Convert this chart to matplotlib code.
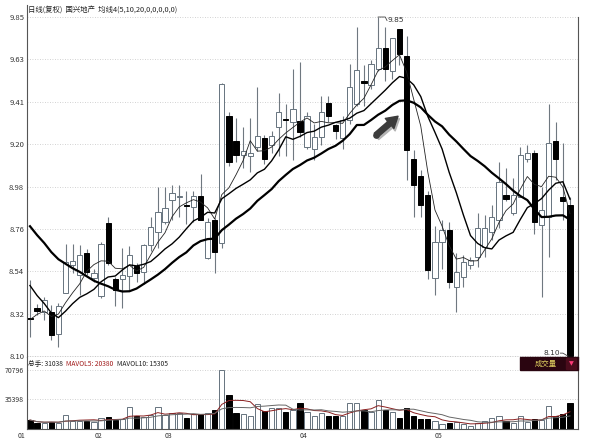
import matplotlib
matplotlib.use('Agg')
import matplotlib.pyplot as plt
import numpy as np
import pandas as pd
from matplotlib.patches import Rectangle

plt.rcParams['font.family'] = ['Noto Sans CJK SC', 'DejaVu Sans']

# daily candles
opens = [8.295, 8.347, 8.329, 8.329, 8.212, 8.424, 8.57, 8.519, 8.633, 8.504,
         8.41, 8.788, 8.498, 8.50, 8.514, 8.566, 8.535, 8.674, 8.742, 8.794,
         8.908, 8.92, 8.88, 8.871, 8.928, 8.607, 8.804, 8.685, 9.337, 9.208,
         9.14, 9.13, 9.177, 9.228, 9.187, 9.28, 9.325, 9.306, 9.311, 9.18,
         9.17, 9.23, 9.405, 9.29, 9.223, 9.32, 9.40, 9.52, 9.50, 9.58,
         9.69, 9.57, 9.788, 9.648, 9.115, 9.027, 8.933, 8.503, 8.69, 8.752,
         8.457, 8.509, 8.57, 8.612, 8.664, 8.74, 8.804, 8.933, 8.84, 8.923,
         9.115, 9.15, 8.778, 8.82, 9.208, 8.92, 8.88]
highs = [8.49, 8.37, 8.407, 8.364, 8.372, 8.68, 8.68, 8.674, 8.654, 8.55,
         8.69, 8.82, 8.51, 8.66, 8.67, 8.58, 8.68, 8.82, 8.97, 8.97,
         8.985, 8.985, 8.95, 8.95, 9.04, 8.81, 8.81, 9.51, 9.36, 9.33,
         9.28, 9.33, 9.49, 9.24, 9.26, 9.46, 9.40, 9.58, 9.62, 9.36,
         9.30, 9.44, 9.44, 9.30, 9.34, 9.61, 9.80, 9.60, 9.63, 9.85,
         9.80, 9.74, 9.79, 9.75, 9.166, 9.06, 8.95, 8.77, 8.80, 8.79,
         8.63, 8.62, 8.61, 8.84, 8.83, 8.88, 9.10, 9.07, 9.02, 9.18,
         9.19, 9.166, 8.97, 9.40, 9.31, 9.20, 8.92]
lows = [8.20, 8.31, 8.286, 8.183, 8.146, 8.424, 8.53, 8.415, 8.519, 8.48,
        8.40, 8.57, 8.36, 8.35, 8.44, 8.48, 8.47, 8.64, 8.66, 8.78,
        8.80, 8.82, 8.78, 8.79, 8.80, 8.60, 8.53, 8.66, 9.08, 9.10,
        9.07, 9.05, 9.16, 9.09, 9.15, 9.13, 9.13, 9.11, 9.23, 9.17,
        9.11, 9.19, 9.31, 9.22, 9.17, 9.30, 9.39, 9.39, 9.48, 9.57,
        9.52, 9.53, 9.60, 9.01, 8.82, 8.82, 8.50, 8.415, 8.55, 8.45,
        8.326, 8.457, 8.55, 8.56, 8.61, 8.70, 8.76, 8.90, 8.83, 8.92,
        9.10, 8.73, 8.405, 8.61, 9.01, 8.80, 8.10]
closes = [8.29, 8.333, 8.39, 8.209, 8.36, 8.583, 8.59, 8.623, 8.535, 8.529,
          8.68, 8.581, 8.441, 8.52, 8.623, 8.53, 8.674, 8.767, 8.845, 8.866,
          8.944, 8.926, 8.872, 8.928, 8.804, 8.794, 8.638, 9.503, 9.104, 9.14,
          9.16, 9.15, 9.234, 9.115, 9.234, 9.358, 9.318, 9.374, 9.254, 9.34,
          9.23, 9.358, 9.337, 9.26, 9.32, 9.487, 9.575, 9.51, 9.606, 9.69,
          9.58, 9.74, 9.66, 9.166, 8.985, 8.882, 8.545, 8.69, 8.752, 8.48,
          8.535, 8.586, 8.597, 8.762, 8.762, 8.82, 9.0, 8.91, 8.933, 9.14,
          9.15, 8.794, 8.856, 9.20, 9.115, 8.90, 8.10]
volumes = [10400, 6400, 6400, 8300, 7100, 16400, 9500, 9500, 9500, 8300,
           12400, 14400, 10400, 11200, 25700, 15200, 13600, 16400, 25700, 16400,
           18500, 18500, 13200, 17300, 17300, 18500, 22500, 70796, 40600, 18500,
           17300, 15200, 29400, 21300, 24500, 25200, 20400, 22500, 30600, 20400,
           15200, 18500, 15200, 15200, 15200, 30600, 30600, 22500, 20400, 34500,
           22500, 20400, 13200, 24500, 15200, 11600, 11200, 9200, 5600, 6400,
           8300, 5200, 3100, 6400, 9500, 12400, 15600, 9000, 7000, 15500,
           7800, 11850, 10400, 27500, 15500, 17462, 31038]
# closes before the visible window, guessed so the MA lines start where they do
prior_closes = [9.25, 9.2, 9.15, 9.1, 9.05, 9.05, 9.0, 9.0, 8.98, 8.98,
                8.85, 8.8, 8.7, 8.6, 8.25, 8.2, 8.3, 8.35, 8.3]

price_ticks = np.linspace(8.10, 9.85, 9)
price_labels = ['8.10', '8.32', '8.54', '8.76', '8.98', '9.20', '9.41', '9.63', '9.85']
vol_ticks = [35398, 70796]
months = ['01', '02', '03', '04', '05']
month_at = [-1.7, 9.15, 19, 38, 57]

df = pd.DataFrame({'open': opens, 'high': highs, 'low': lows,
                   'close': closes, 'vol': volumes})
n = len(df)
x = np.arange(n)
up = (df['close'] >= df['open']).values

allc = pd.Series(prior_closes + closes)
k = len(prior_closes)
ma5 = allc.rolling(5).mean().iloc[k:].values
ma10 = allc.rolling(10).mean().iloc[k:].values
ma20 = allc.rolling(20).mean().iloc[k:].values
vma5 = df['vol'].rolling(5, min_periods=1).mean()
vma10 = df['vol'].rolling(10, min_periods=1).mean()

W, H = 593, 440
fig = plt.figure(figsize=(W / 100, H / 100), dpi=100)
ax = fig.add_axes([27 / W, 1 - 357 / H, 551 / W, 352 / H])
axv = fig.add_axes([27 / W, 1 - 429 / H, 551 / W, 72 / H])

edge = '#66737e'
wick = '#6f7880'
fills = np.where(up, 'white', 'black')
edges = np.where(up, edge, 'black')

# candles
ax.vlines(x, df['low'], df['high'], color=wick, lw=0.8, zorder=1)
body_lo = np.minimum(df['open'], df['close'])
body_h = np.maximum(np.abs(df['close'] - df['open']), 0.007)
ax.bar(x, body_h, bottom=body_lo, width=0.74, color=fills, edgecolor=edges,
       linewidth=0.7, zorder=2)

ax.plot(x, ma5, color='#222222', lw=0.6, zorder=3)
ax.plot(x, ma10, color='black', lw=1.0, zorder=3)
ax.plot(x, ma20, color='black', lw=1.6, zorder=3)

ax.set_xlim(-0.42, 77.13)
ax.set_ylim(8.095, 9.912)
ax.set_yticks(price_ticks)
ax.set_yticklabels(price_labels)
ax.set_xticks([])
ax.tick_params(length=0, labelsize=5.5, colors='#333333', pad=2)
ax.yaxis.grid(True, linestyle=(0, (1, 2)), color='#c4c4c4', lw=0.6)
ax.set_axisbelow(True)
ax.spines['top'].set_visible(False)
ax.spines['right'].set_bounds(8.095, 9.85)
for s in ['left', 'right', 'bottom']:
    ax.spines[s].set_color('#555555')
    ax.spines[s].set_linewidth(0.8)

# highest / lowest price marks
hi = int(np.argmax(highs))
ax.plot([hi, hi + 1.0, hi + 1.25], [highs[hi], highs[hi], highs[hi] - 0.018],
        color='#444444', lw=0.6, zorder=3)
ax.text(hi + 1.3, highs[hi] - 0.018, '9.85', fontsize=5.3, color='#333333',
        va='center', ha='left', family=['DejaVu Sans'])
lo = int(np.argmin(lows))
ax.plot([lo - 1.35, lo - 1.0, lo - 0.3], [lows[lo] + 0.015, lows[lo] + 0.015, lows[lo]],
        color='#444444', lw=0.6, zorder=3)
ax.text(lo - 1.4, lows[lo] + 0.015, '8.10', fontsize=5.3, color='#333333',
        va='center', ha='right', family=['DejaVu Sans'])

# arrow pointing at the MA turn
style = 'simple,head_length=0.8,head_width=0.95,tail_width=0.38'
ax.annotate('', xy=(52.0, 9.325), xytext=(48.85, 9.228),
            arrowprops=dict(arrowstyle=style, color='#b4b4b4', shrinkA=0, shrinkB=0),
            zorder=4)
ax.annotate('', xy=(51.8, 9.338), xytext=(48.7, 9.24),
            arrowprops=dict(arrowstyle=style, color='#3c3c3c', shrinkA=0, shrinkB=0),
            zorder=5)
ax.plot(48.7, 9.24, 'o', ms=3.8, color='#3c3c3c', zorder=5)

# volume
axv.bar(x, df['vol'], width=0.74, color=fills, edgecolor=edges, linewidth=0.7, zorder=2)
axv.plot(x, vma5, color='#8b2020', lw=0.7, zorder=3)
axv.plot(x, vma10, color='#666666', lw=0.7, zorder=3)
axv.set_xlim(-0.42, 77.13)
axv.set_ylim(-480, 86500)
axv.set_yticks(vol_ticks)
axv.set_yticklabels([str(v) for v in vol_ticks])
axv.set_xticks([])
axv.tick_params(length=0, labelsize=5, colors='#333333', pad=2)
axv.yaxis.grid(True, linestyle=(0, (1, 2)), color='#c4c4c4', lw=0.6)
axv.set_axisbelow(True)
axv.spines['top'].set_visible(False)
for s in ['left', 'right', 'bottom']:
    axv.spines[s].set_color('#555555')
    axv.spines[s].set_linewidth(0.8)

for m, p in zip(months, month_at):
    axv.text(p, -0.04, m, transform=axv.get_xaxis_transform(), fontsize=5,
             color='#333333', ha='left', va='top')

# header texts
fig.text(28 / W, 1 - 11 / H, '日线(复权)  国兴地产  均线4(5,10,20,0,0,0,0,0)',
         fontsize=5.3, color='#222222', va='center', ha='left')

# volume header, placed one after another
renderer = fig.canvas.get_renderer()
xpos = 28
for txt, col in [('总手: 31038 ', '#222222'), ('MAVOL5: 20380 ', '#a01818'),
                 ('MAVOL10: 15305', '#222222')]:
    t = fig.text(xpos / W, 1 - 364 / H, txt, fontsize=4.8, color=col,
                 va='center', ha='left')
    xpos += t.get_window_extent(renderer).width + 2

# "成交量" tag at the panel corner
fig.patches.append(Rectangle((520 / W, 1 - 370 / H), 58 / W, 13 / H,
                             transform=fig.transFigure, color='#2a0510', zorder=5))
fig.patches.append(Rectangle((566 / W, 1 - 369 / H), 10 / W, 11 / H,
                             transform=fig.transFigure, color='#4a0c1c', zorder=6))
fig.text(546 / W, 1 - 363.5 / H, '成交量', fontsize=5.3, color='#e0d060',
         va='center', ha='center', zorder=7)
fig.text(571 / W, 1 - 364 / H, '▼', fontsize=4.5, color='#ff3a78',
         va='center', ha='center', zorder=7, family=['DejaVu Sans'])

fig.savefig('out.png', dpi=100)
